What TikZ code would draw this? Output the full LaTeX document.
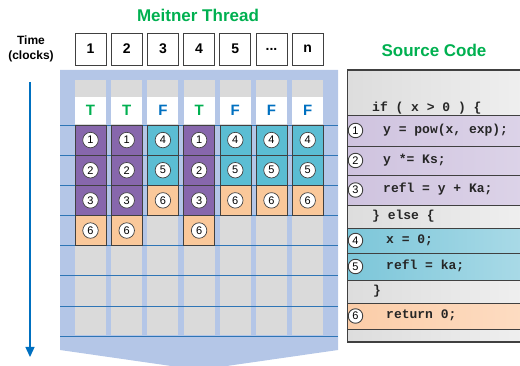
\documentclass[tikz,border=0pt]{standalone}
\usepackage{fontspec}
\setmainfont{Liberation Sans}
\newfontfamily\codefont{Liberation Mono}
\usetikzlibrary{arrows.meta}
\definecolor{panelblue}{HTML}{B4C6E7}
\definecolor{colgray}{HTML}{DADADA}
\definecolor{gridline}{HTML}{2E75B6}
\definecolor{purp}{HTML}{8767AC}
\definecolor{cyn}{HTML}{5BBDD3}
\definecolor{org}{HTML}{FAC89A}
\definecolor{ttl}{HTML}{00B050}
\definecolor{fblue}{HTML}{0070C0}
\definecolor{spurpL}{HTML}{CFC3DF}
\definecolor{spurpR}{HTML}{DCD3E8}
\definecolor{scynL}{HTML}{7CC6D9}
\definecolor{scynR}{HTML}{A9DAE7}
\definecolor{sorgL}{HTML}{FBCDA8}
\definecolor{sorgR}{HTML}{FDDCC2}
\definecolor{sgrayL}{HTML}{DDDDDD}
\definecolor{sgrayR}{HTML}{EFEFEF}
\definecolor{edge}{HTML}{404040}
\newcommand\mydots{...}
\begin{document}
\begin{tikzpicture}[x=1pt,y=-1pt,
  title/.style={font=\bfseries\fontsize{17}{17}\selectfont, text=ttl, inner sep=0pt},
  numbox/.style={draw=edge, line width=0.8pt, fill=white, minimum width=31pt, minimum height=32pt, inner sep=0pt, font=\bfseries\fontsize{14}{14}\selectfont},
  colbox/.style={fill=colgray, minimum width=31pt, minimum height=255pt, inner sep=0pt, anchor=north},
  tfcell/.style={fill=white, minimum width=31pt, minimum height=27pt, inner sep=0pt, font=\bfseries\fontsize{15}{15}\selectfont},
  cell/.style={draw=edge, line width=0.6pt, minimum width=31pt, minimum height=30.15pt, inner sep=0pt},
  circnum/.style={circle, draw=edge, line width=0.7pt, fill=white, minimum size=15.5pt, inner sep=0pt, font=\fontsize{11}{11}\selectfont},
  srcrow/.style={draw=edge, line width=0.7pt, minimum width=176pt, inner sep=0pt, anchor=north west},
  code/.style={font=\codefont\bfseries\fontsize{13}{13}\selectfont, anchor=west, inner sep=0pt, text height=8pt, text depth=2pt, text=black!85},
  scirc/.style={circle, draw=edge, line width=0.9pt, fill=white, minimum size=14.5pt, inner sep=0pt, font=\fontsize{11}{11}\selectfont},
  gline/.style={gridline, line width=0.6pt},
  timearrow/.style={fblue, line width=1.3pt, -{Triangle[length=10pt,width=9pt]}},
]
\useasboundingbox (0,0) rectangle (520,366);

% titles
\node[title] (mt) at (198,15) {Meitner Thread};
\node[title] (sc) at (434,50) {Source Code};
\node[font=\bfseries\fontsize{12}{15}\selectfont, align=center, inner sep=0pt] (time) at (31,48.5) {Time\\(clocks)};

% time arrow
\coordinate (ta) at (30,82);
\coordinate (tb) at (30,357);
\draw[timearrow] (ta) -- (tb);

% blue panel
\fill[panelblue] (60,70) -- (338,70) -- (338,350) -- (199,370) -- (60,350) -- cycle;

% columns, headers, T/F
\foreach \i/\lab/\tf/\tc in {0/1/T/ttl, 1/2/T/ttl, 2/3/F/fblue, 3/4/T/ttl, 4/5/F/fblue, 5/\mydots/F/fblue, 6/n/F/fblue}{
  \pgfmathsetmacro\cx{90.5+36.2*\i}
  \node[colbox] (col\i) at (\cx,80) {};
  \node[numbox] (hd\i) at (\cx,49) {\lab};
  \node[tfcell, text=\tc] (tf\i) at (\cx,110.5) {\tf};
}

% horizontal lines
\foreach \k in {0,...,7}{
  \pgfmathsetmacro\ly{125+30.15*\k}
  \draw[gline] (60,\ly) -- (338,\ly);
}

% cells
\foreach \i/\seq in {0/{1,2,3,6}, 1/{1,2,3,6}, 2/{4,5,6}, 3/{1,2,3,6}, 4/{4,5,6}, 5/{4,5,6}, 6/{4,5,6}}{
  \pgfmathsetmacro\cx{90.5+36.2*\i}
  \foreach \n [count=\r from 0] in \seq {
    \pgfmathsetmacro\cy{125+30.15*(\r+0.5)}
    \ifnum\n<4 \def\cc{purp}\else\ifnum\n<6 \def\cc{cyn}\else\def\cc{org}\fi\fi
    \node[cell, fill=\cc] (c\i-\r) at (\cx,\cy) {};
    \node[circnum] (n\i-\r) at (c\i-\r.center) {\n};
  }
}

% source code panel rows
\node[srcrow, left color=sgrayL, right color=sgrayR, minimum height=45pt] (s0) at (347,70) {};
\node[srcrow, left color=spurpL, right color=spurpR, minimum height=31pt] (s1) at (347,115) {};
\node[srcrow, left color=spurpL, right color=spurpR, minimum height=29pt] (s2) at (347,146) {};
\node[srcrow, left color=spurpL, right color=spurpR, minimum height=30pt] (s3) at (347,175) {};
\node[srcrow, left color=sgrayL, right color=sgrayR, minimum height=23pt] (s4) at (347,205) {};
\node[srcrow, left color=scynL, right color=scynR, minimum height=25pt] (s5) at (347,228) {};
\node[srcrow, left color=scynL, right color=scynR, minimum height=27pt] (s6) at (347,253) {};
\node[srcrow, left color=sgrayL, right color=sgrayR, minimum height=23pt] (s7) at (347,280) {};
\node[srcrow, left color=sorgL, right color=sorgR, minimum height=26pt] (s8) at (347,303) {};
\node[srcrow, left color=sgrayL, right color=sgrayR, minimum height=13pt] (s9) at (347,329) {};
\draw[edge, line width=1pt] (347,70) rectangle (524,342);

% code text
\node[code] (t0) at (372,109) {if ( x > 0 ) \{};
\node[scirc] (k1) at (355.5,130.5) {1};
\node[code] (t1) at (383,130.5) {y = pow(x, exp);};
\node[scirc] (k2) at (355.5,160.5) {2};
\node[code] (t2) at (383,160.5) {y *= Ks;};
\node[scirc] (k3) at (355.5,190) {3};
\node[code] (t3) at (383,190) {refl = y + Ka;};
\node[code] (t4) at (372,216.5) {\} else \{};
\node[scirc] (k4) at (355.5,240.5) {4};
\node[code] (t5) at (386,240.5) {x = 0;};
\node[scirc] (k5) at (355.5,266.5) {5};
\node[code] (t6) at (386,266.5) {refl = ka;};
\node[code] (t7) at (373,291.5) {\}};
\node[scirc] (k6) at (355.5,316) {6};
\node[code] (t8) at (386,316) {return 0;};
\end{tikzpicture}
\end{document}
